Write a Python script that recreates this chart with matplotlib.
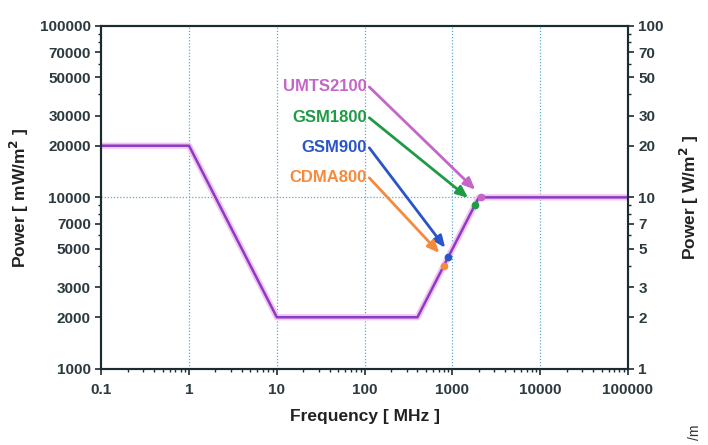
import numpy as np
import matplotlib
matplotlib.use("Agg")
import matplotlib.pyplot as plt
from matplotlib.ticker import FixedLocator, NullFormatter

plt.rcParams['font.family'] = ['Liberation Sans', 'DejaVu Sans']

# reference level curve (frequency in MHz, power in mW/m^2)
freq = [0.1, 1, 10, 400, 2000, 100000]
power = [20000, 20000, 2000, 2000, 10000, 10000]

# services: label, marker frequency, arrow start, arrow tip
services = ["UMTS2100", "GSM1800", "GSM900", "CDMA800"]
svc_freq = [2100, 1800, 900, 800]
label_power = [44000, 29100, 19450, 13000]
tip_freq = [1820, 1510, 828, 710]
tip_power = [11070, 9930, 5080, 4740]
colors = ["#c466c8", "#1f9a45", "#2a55c8", "#f58a3c"]

left_ticks = [1000, 2000, 3000, 5000, 7000, 10000, 20000, 30000, 50000, 70000, 100000]
right_ticks = [1, 2, 3, 5, 7, 10, 20, 30, 50, 70, 100]
x_ticks = [0.1, 1, 10, 100, 1000, 10000, 100000]

txt = "#2c3a40"
spine = "#1c2b30"

fig = plt.figure(figsize=(7.08, 4.45), dpi=100)
ax = fig.add_axes([0.143, 0.171, 0.744, 0.771])
ax.set_xscale("log")
ax.set_yscale("log")
ax.set_xlim(0.1, 100000)
ax.set_ylim(1000, 100000)

for xv in x_ticks[1:-1]:
    ax.axvline(xv, color="#5aaad8", ls=(0, (1, 1.5)), lw=0.9, zorder=1)
ax.axhline(10000, color="#5aaad8", ls=(0, (1, 1.5)), lw=0.9, zorder=1)

ax.plot(freq, power, color="#f2c4ee", lw=4.5, zorder=2, solid_capstyle="butt")
ax.plot(freq, power, color="#8a3cc4", lw=1.8, zorder=3)

for i, name in enumerate(services):
    ax.annotate("", xy=(tip_freq[i], tip_power[i]), xytext=(113, label_power[i]),
                arrowprops=dict(arrowstyle="-|>,head_length=0.7,head_width=0.3",
                                color=colors[i], lw=2.0, shrinkA=0, shrinkB=0),
                zorder=4)
    ax.text(106, label_power[i], name, color=colors[i], fontsize=12,
            fontweight="bold", ha="right", va="center")
    p = np.interp(np.log10(svc_freq[i]), np.log10(freq), np.log10(power))
    ax.plot(svc_freq[i], 10 ** p, "o", color=colors[i], ms=4.5, zorder=5)

ax.xaxis.set_major_locator(FixedLocator(x_ticks))
ax.set_xticklabels([str(v) for v in x_ticks])
ax.yaxis.set_major_locator(FixedLocator(left_ticks))
ax.set_yticklabels([str(v) for v in left_ticks])
ax.yaxis.set_minor_formatter(NullFormatter())
ax.xaxis.set_minor_formatter(NullFormatter())
ax.tick_params(which="major", length=4, width=1.2, colors=spine, labelcolor=txt,
               labelsize=11, direction="out")
ax.tick_params(axis="x", which="major", pad=6)
ax.tick_params(which="minor", length=2.5, width=1.0, colors=spine, direction="out")
for lab in ax.get_xticklabels() + ax.get_yticklabels():
    lab.set_fontweight("bold")

ax2 = ax.twinx()
ax2.set_yscale("log")
ax2.set_ylim(1, 100)
ax2.yaxis.set_major_locator(FixedLocator(right_ticks))
ax2.set_yticklabels([str(v) for v in right_ticks])
ax2.yaxis.set_minor_formatter(NullFormatter())
ax2.tick_params(which="major", length=4, width=1.2, colors=spine, labelcolor=txt,
                labelsize=11, direction="out")
ax2.tick_params(which="minor", length=2.5, width=1.0, colors=spine, direction="out")
for lab in ax2.get_yticklabels():
    lab.set_fontweight("bold")

for a in (ax, ax2):
    for s in a.spines.values():
        s.set_color(spine)
        s.set_linewidth(1.5)

ax.set_xlabel("Frequency [ MHz ]", fontsize=12.5, fontweight="bold", color="#222", labelpad=9)
ax.set_ylabel("Power [ mW/m$^\\mathbf{2}$ ]", fontsize=12.5, fontweight="bold", color="#222", labelpad=6)
ax2.set_ylabel("Power [ W/m$^\\mathbf{2}$ ]", fontsize=12.5, fontweight="bold", color="#222", labelpad=10)

fig.text(0.982, 0.012, "/m", rotation=90, fontsize=10, color="#333", ha="center", va="bottom")

fig.savefig("out.png", dpi=100, facecolor="white")
